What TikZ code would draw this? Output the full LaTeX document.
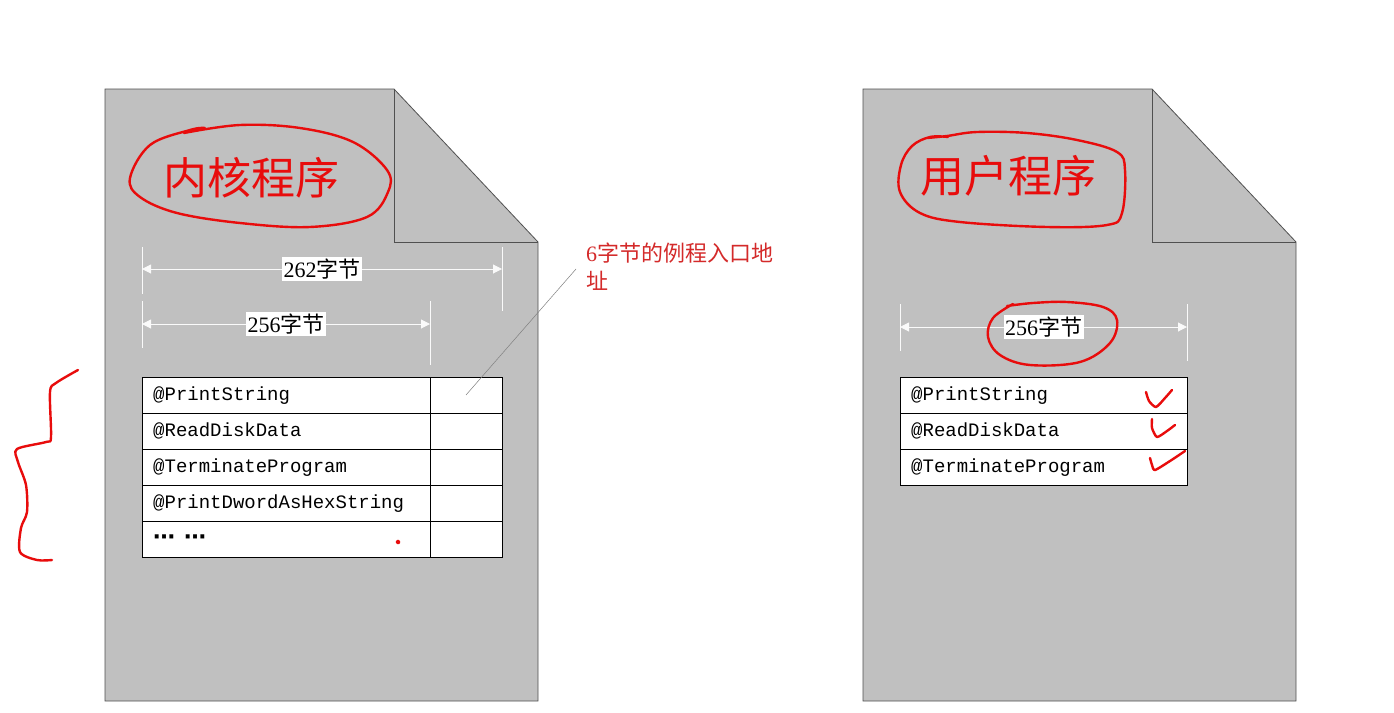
\documentclass[tikz,border=0pt]{standalone}
\usepackage{fontspec}
\setmainfont{Liberation Serif}
\setmonofont{Liberation Mono}
\newfontfamily\cjk{Noto Sans CJK SC}
\newfontfamily\zeichen{DejaVu Sans}
\usetikzlibrary{arrows.meta}
\definecolor{blatt}{HTML}{C0C0C0}
\definecolor{rand}{HTML}{505050}
\definecolor{tinte}{HTML}{E80C0C}
\definecolor{notiz}{HTML}{D42A2A}

\def\dokument#1#2{
	\draw[randlinie,fill=blatt] (#1,89) -- ++(289,0) -- ++(144,153) -- ++(0,459) -- ++(-433,0) -- cycle;
	\draw[randlinie] (#1+289,89) -- ++(0,153) -- ++(144,0);
	\coordinate (#2) at (#1,89);
}
\def\masz#1#2#3#4#5#6#7#8{
	\draw[hilfslinie] (#2,#5) -- (#2,#6);
	\draw[hilfslinie] (#3,#5) -- (#3,#7);
	\coordinate (#1a) at (#2,#4);
	\coordinate (#1b) at (#3,#4);
	\draw[hilfslinie,{Triangle[length=9pt,width=9pt]}-{Triangle[length=9pt,width=9pt]}] (#1a) -- node[maszzahl]{#8} (#1b);
}

\begin{document}
\begin{tikzpicture}[x=1pt,y=-1pt,
	randlinie/.style={draw=rand,line width=0.8pt},
	hilfslinie/.style={draw=white!92!blatt,line width=1pt},
	maszzahl/.style={fill=white,inner sep=1.5pt,font=\fontsize{22}{24}\selectfont},
	zeile/.style={draw=black,fill=white,line width=0.8pt,anchor=north west,minimum height=36,inner sep=0pt},
	eintrag/.style={anchor=west,inner sep=0pt,font=\ttfamily\fontsize{19}{21}\selectfont},
	tinte/.style={draw=tinte,line width=2.4pt,line cap=round,line join=round},
	titel/.style={text=tinte,font=\cjk\fontsize{44}{48}\selectfont},
	hinweis/.style={text=notiz,align=left,inner sep=2pt,font=\fontsize{22}{28}\selectfont},
	zeiger/.style={draw=gray,line width=0.5pt}]
\useasboundingbox[fill=white] (0,0) rectangle (1394,712);

% die beiden Dateien
\dokument{105}{kernel}
\dokument{863}{user}

% Kernprogramm
\node[titel] (kern) at (251,178) {内核程序};
\masz{gesamt}{142}{502}{269}{247}{294}{311}{262{\cjk 字节}}
\masz{links}{142}{430}{324}{301}{348}{365}{256{\cjk 字节}}
\foreach \t [count=\i] in {@PrintString,@ReadDiskData,@TerminateProgram,@PrintDwordAsHexString,{{\zeichen\bfseries\fontsize{22}{22}\selectfont ⋯\hspace{9pt}⋯}}}{
	\node[zeile,minimum width=288] (kz\i) at (142,{377+36*(\i-1)}) {};
	\node[zeile,minimum width=72] (ka\i) at (430,{377+36*(\i-1)}) {};
	\node[eintrag] (kt\i) at ([xshift=11]kz\i.west) {\t};
}
\fill[tinte] (398,542) circle[radius=1.3];

\coordinate (ziel) at (466,395);
\node[hinweis,anchor=north west] (hinweis) at (584,241) {6{\cjk 字节的例程入口地}\\{\cjk 址}};
\draw[zeiger] (ziel) -- ([xshift=-8,yshift=-2]hinweis.west);

% Benutzerprogramm
\node[titel] (nutzer) at (1008,176) {用户程序};
\masz{rechts}{900}{1187}{327}{304}{351}{361}{256{\cjk 字节}}
\foreach \t [count=\i] in {@PrintString,@ReadDiskData,@TerminateProgram}{
	\node[zeile,minimum width=287] (uz\i) at (900,{377+36*(\i-1)}) {};
	\node[eintrag] (ut\i) at ([xshift=11]uz\i.west) {\t};
}

% Handschrift
\draw[tinte] plot[smooth,tension=0.6] coordinates {(184,133) (240,125) (300,128) (353,142) (387,170) (388,192) (367,217) (310,227) (240,223) (177,213) (140,197) (130,178) (150,145) (190,130) (205,128)};
\draw[tinte] plot[smooth,tension=0.6] coordinates {(927,138) (947,136) (977,132) (1027,133) (1077,140) (1117,152) (1125,170) (1122,213) (1107,225) (1047,227) (960,222) (920,213) (900,192) (901,165) (912,146) (930,137) (948,137)};
\draw[tinte] plot[smooth,tension=0.6] coordinates {(1013,304) (993,318) (988,337) (1000,355) (1030,365) (1080,362) (1110,343) (1117,320) (1103,307) (1067,302) (1033,303) (1007,306)};
\draw[tinte] plot[smooth,tension=0.5] coordinates {(78,370) (56,383) (50,392) (51,437) (46,442) (17,449) (18,462) (26,485) (27,512) (21,528) (20,552) (37,560) (52,560)};
\draw[tinte] plot[smooth,tension=0.4] coordinates {(1146,392) (1149,401) (1156,407) (1165,398) (1172,390)};
\draw[tinte] plot[smooth,tension=0.4] coordinates {(1152,419) (1152,428) (1157,437) (1167,431) (1175,425)};
\draw[tinte] plot[smooth,tension=0.4] coordinates {(1150,458) (1152,465) (1155,470) (1170,461) (1185,451)};
\end{tikzpicture}
\end{document}
